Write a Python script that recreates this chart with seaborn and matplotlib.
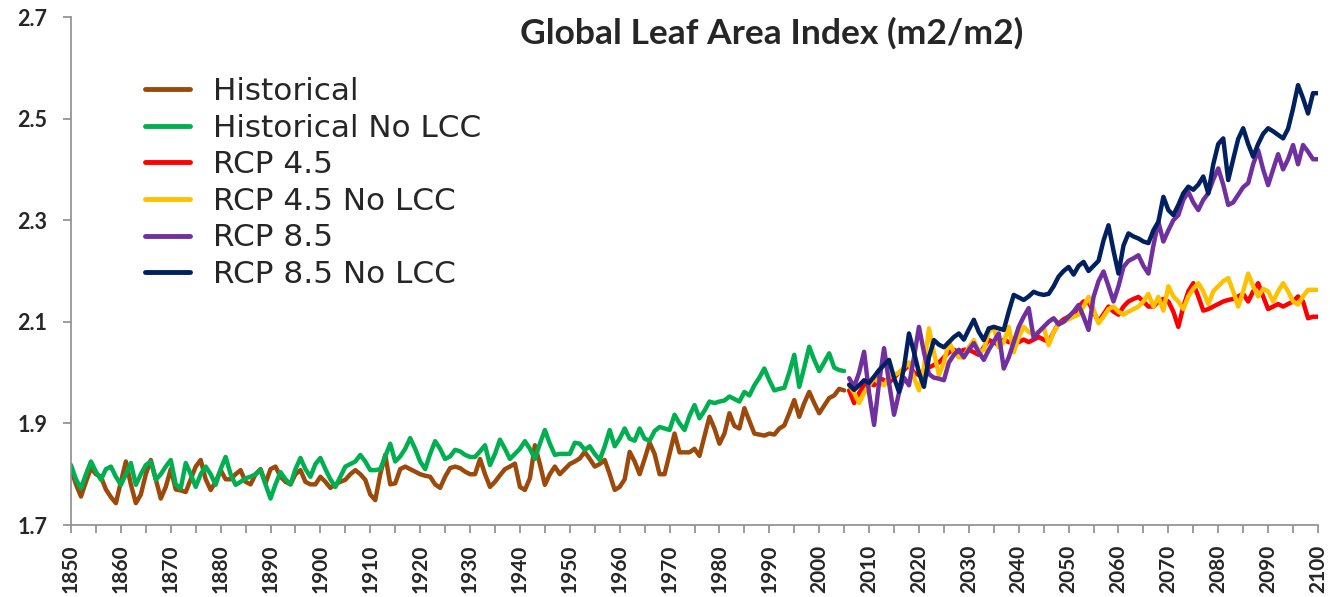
import matplotlib
matplotlib.use("Agg")
import matplotlib.pyplot as plt
import seaborn as sns
from matplotlib.ticker import MultipleLocator

# Years
hist_years = list(range(1850, 2006))
rcp_years = list(range(2006, 2101))

# Global leaf area index (m2/m2)
historical = [
    1.81, 1.78, 1.756, 1.785, 1.812, 1.80, 1.795, 1.77, 1.755, 1.743,
    1.785, 1.825, 1.78, 1.743, 1.76, 1.80, 1.828, 1.79, 1.752, 1.775,
    1.81, 1.77, 1.768, 1.765, 1.79, 1.815, 1.828, 1.79, 1.769, 1.785,
    1.808, 1.79, 1.79, 1.80, 1.808, 1.785, 1.78, 1.80, 1.81, 1.782,
    1.81, 1.815, 1.795, 1.785, 1.78, 1.80, 1.808, 1.785, 1.78, 1.78,
    1.795, 1.785, 1.773, 1.78, 1.785, 1.789, 1.80, 1.808, 1.80, 1.789,
    1.76, 1.749, 1.80, 1.838, 1.78, 1.782, 1.81, 1.815, 1.81, 1.805,
    1.80, 1.797, 1.795, 1.78, 1.773, 1.795, 1.812, 1.815, 1.812, 1.805,
    1.80, 1.80, 1.83, 1.80, 1.775, 1.785, 1.798, 1.81, 1.815, 1.821,
    1.775, 1.769, 1.792, 1.857, 1.82, 1.779, 1.80, 1.815, 1.80, 1.81,
    1.82, 1.825, 1.831, 1.844, 1.83, 1.815, 1.82, 1.828, 1.80, 1.769,
    1.775, 1.79, 1.844, 1.825, 1.80, 1.83, 1.862, 1.84, 1.80, 1.80,
    1.84, 1.88, 1.843, 1.843, 1.843, 1.85, 1.836, 1.875, 1.913, 1.89,
    1.86, 1.88, 1.92, 1.895, 1.89, 1.93, 1.905, 1.88, 1.878, 1.876,
    1.88, 1.878, 1.89, 1.896, 1.92, 1.946, 1.913, 1.94, 1.962, 1.94,
    1.92, 1.935, 1.95, 1.955, 1.968, 1.965,
]

historical_no_lcc = [
    1.818, 1.79, 1.772, 1.80, 1.825, 1.805, 1.789, 1.81, 1.815, 1.795,
    1.779, 1.80, 1.822, 1.779, 1.80, 1.818, 1.825, 1.789, 1.80, 1.815,
    1.828, 1.78, 1.772, 1.822, 1.80, 1.775, 1.80, 1.815, 1.80, 1.779,
    1.81, 1.834, 1.80, 1.779, 1.785, 1.792, 1.795, 1.80, 1.808, 1.78,
    1.752, 1.78, 1.804, 1.79, 1.78, 1.81, 1.832, 1.81, 1.795, 1.82,
    1.832, 1.81, 1.79, 1.775, 1.795, 1.815, 1.82, 1.825, 1.838, 1.825,
    1.808, 1.808, 1.81, 1.835, 1.86, 1.825, 1.835, 1.85, 1.871, 1.85,
    1.825, 1.81, 1.84, 1.865, 1.85, 1.83, 1.835, 1.848, 1.845, 1.838,
    1.834, 1.834, 1.845, 1.857, 1.818, 1.84, 1.868, 1.85, 1.83, 1.84,
    1.85, 1.865, 1.85, 1.83, 1.86, 1.887, 1.86, 1.838, 1.84, 1.84,
    1.84, 1.862, 1.86, 1.848, 1.855, 1.84, 1.828, 1.855, 1.887, 1.855,
    1.87, 1.89, 1.87, 1.866, 1.89, 1.87, 1.866, 1.885, 1.893, 1.89,
    1.887, 1.917, 1.90, 1.887, 1.915, 1.936, 1.91, 1.925, 1.943, 1.94,
    1.943, 1.945, 1.953, 1.948, 1.943, 1.962, 1.955, 1.975, 1.99, 2.008,
    1.985, 1.965, 1.968, 1.97, 2.00, 2.035, 1.972, 2.01, 2.051, 2.025,
    2.003, 2.02, 2.038, 2.01, 2.005, 2.003,
]

rcp45 = [
    1.965, 1.94, 1.96, 1.975, 1.98,
    1.975, 1.99, 1.985, 1.98, 1.99, 2.00, 2.005, 2.015, 2.00, 1.995,
    2.005, 2.01, 2.015, 2.02, 2.03, 2.04, 2.045, 2.04, 2.045, 2.045,
    2.04, 2.035, 2.05, 2.064, 2.06, 2.054, 2.065, 2.06, 2.06, 2.06,
    2.065, 2.06, 2.065, 2.07, 2.065, 2.06, 2.08, 2.097, 2.105, 2.11,
    2.114, 2.13, 2.14, 2.138, 2.12, 2.10, 2.115, 2.13, 2.12, 2.114,
    2.13, 2.14, 2.145, 2.149, 2.14, 2.13, 2.13, 2.14, 2.145, 2.14,
    2.12, 2.09, 2.13, 2.16, 2.176, 2.15, 2.122, 2.125, 2.13, 2.135,
    2.14, 2.143, 2.145, 2.15, 2.155, 2.14, 2.16, 2.176, 2.15, 2.125,
    2.13, 2.135, 2.13, 2.135, 2.14, 2.15, 2.14, 2.107, 2.11, 2.11,
]

rcp45_no_lcc = [
    1.976, 1.96, 1.94, 1.96, 1.975,
    1.989, 1.98, 1.975, 1.99, 1.995, 2.00, 2.01, 2.02, 1.99, 1.965,
    2.01, 2.087, 2.04, 1.995, 2.02, 2.061, 2.04, 2.03, 2.03, 2.05,
    2.064, 2.04, 2.045, 2.08, 2.09, 2.05, 2.06, 2.09, 2.04, 2.07,
    2.09, 2.08, 2.075, 2.08, 2.09, 2.054, 2.08, 2.095, 2.10, 2.105,
    2.11, 2.114, 2.13, 2.149, 2.125, 2.097, 2.11, 2.125, 2.13, 2.12,
    2.114, 2.12, 2.125, 2.13, 2.14, 2.155, 2.13, 2.149, 2.122, 2.17,
    2.15, 2.14, 2.125, 2.15, 2.165, 2.176, 2.16, 2.135, 2.16, 2.17,
    2.18, 2.186, 2.16, 2.13, 2.16, 2.195, 2.17, 2.15, 2.165, 2.16,
    2.14, 2.16, 2.176, 2.16, 2.14, 2.134, 2.15, 2.163, 2.163, 2.163,
]

rcp85 = [
    1.989, 1.972, 2.00, 2.041, 1.96,
    1.897, 1.98, 2.048, 1.98, 1.917, 1.96, 1.99, 1.975, 2.03, 2.09,
    2.04, 1.997, 1.99, 1.988, 1.985, 2.02, 2.035, 2.045, 2.03, 2.045,
    2.058, 2.04, 2.025, 2.045, 2.061, 2.077, 2.008, 2.03, 2.06, 2.09,
    2.11, 2.127, 2.068, 2.08, 2.09, 2.10, 2.107, 2.095, 2.10, 2.11,
    2.12, 2.133, 2.11, 2.084, 2.149, 2.18, 2.199, 2.17, 2.14, 2.17,
    2.208, 2.22, 2.225, 2.231, 2.21, 2.195, 2.25, 2.297, 2.258, 2.28,
    2.30, 2.31, 2.34, 2.356, 2.335, 2.32, 2.34, 2.353, 2.38, 2.402,
    2.37, 2.33, 2.335, 2.35, 2.365, 2.373, 2.41, 2.438, 2.40, 2.369,
    2.40, 2.43, 2.40, 2.42, 2.448, 2.41, 2.448, 2.435, 2.42, 2.42,
]

rcp85_no_lcc = [
    1.976, 1.966, 1.975, 1.985, 1.98,
    1.992, 2.005, 2.015, 2.025, 1.99, 1.962, 2.01, 2.077, 2.04, 2.00,
    1.972, 2.03, 2.064, 2.055, 2.05, 2.06, 2.07, 2.077, 2.065, 2.085,
    2.104, 2.08, 2.064, 2.087, 2.09, 2.087, 2.084, 2.12, 2.153, 2.148,
    2.143, 2.15, 2.159, 2.155, 2.153, 2.155, 2.17, 2.189, 2.20, 2.208,
    2.193, 2.21, 2.218, 2.20, 2.21, 2.22, 2.26, 2.29, 2.24, 2.195,
    2.25, 2.274, 2.268, 2.264, 2.258, 2.255, 2.28, 2.297, 2.346, 2.32,
    2.31, 2.33, 2.353, 2.366, 2.36, 2.37, 2.386, 2.353, 2.41, 2.45,
    2.461, 2.379, 2.42, 2.46, 2.481, 2.45, 2.425, 2.45, 2.47, 2.481,
    2.475, 2.468, 2.461, 2.48, 2.52, 2.566, 2.54, 2.51, 2.55, 2.55,
]

series = [
    ("Historical", hist_years, historical, "#9C4A0C"),
    ("Historical No LCC", hist_years, historical_no_lcc, "#00B050"),
    ("RCP 4.5", rcp_years, rcp45, "#FF0000"),
    ("RCP 4.5 No LCC", rcp_years, rcp45_no_lcc, "#FFC000"),
    ("RCP 8.5", rcp_years, rcp85, "#7030A0"),
    ("RCP 8.5 No LCC", rcp_years, rcp85_no_lcc, "#002060"),
]

sns.set_style("white")
plt.rcParams["font.family"] = ["DejaVu Sans"]

fig = plt.figure(figsize=(13.30, 5.97), dpi=100)
ax = fig.add_axes([71 / 1330, 1 - 525 / 597, (1318 - 71) / 1330, (525 - 17) / 597])

for name, xs, ys, color in series:
    sns.lineplot(x=xs, y=ys, color=color, linewidth=3.2, label=name, ax=ax,
                 solid_joinstyle="round", solid_capstyle="round")

ax.set_xlim(1850, 2100)
ax.set_ylim(1.7, 2.7)
ax.xaxis.set_major_locator(MultipleLocator(10))
ax.xaxis.set_minor_locator(MultipleLocator(5))

for side in ("top", "right"):
    ax.spines[side].set_visible(False)
for side in ("left", "bottom"):
    ax.spines[side].set_color("#8C8C8C")
    ax.spines[side].set_linewidth(1.2)

ax.tick_params(axis="x", which="both", direction="out", length=6, width=1.2,
               color="#8C8C8C", bottom=True, pad=8)
ax.tick_params(axis="y", which="both", direction="out", length=6, width=1.2,
               color="#8C8C8C", left=True, pad=11)
ax.set_xticks(range(1850, 2101, 10))
ax.set_xticklabels([str(y) for y in range(1850, 2101, 10)], rotation=90,
                   fontsize=15, fontweight="bold", family="Lato")
ax.set_yticks([1.7, 1.9, 2.1, 2.3, 2.5, 2.7])
ax.set_yticklabels(["1.7", "1.9", "2.1", "2.3", "2.5", "2.7"],
                   fontsize=15.5, fontweight="bold", family="Lato")
ax.set_xlabel("")
ax.set_ylabel("")
ax.grid(False)

leg = ax.legend(loc="upper left", bbox_to_anchor=(145 / 1330, 1 - 77 / 597),
                bbox_transform=fig.transFigure, frameon=False, fontsize=22.4,
                handlelength=1.45, handletextpad=0.75, labelspacing=0.245,
                borderpad=0, borderaxespad=0)
for line in leg.get_lines():
    line.set_linewidth(3.5)

fig.text(0.58, 0.945, "Global Leaf Area Index (m2/m2)", ha="center", va="center",
         fontsize=25.5, fontweight="bold", family="Lato")

fig.savefig("out.png", dpi=100)
